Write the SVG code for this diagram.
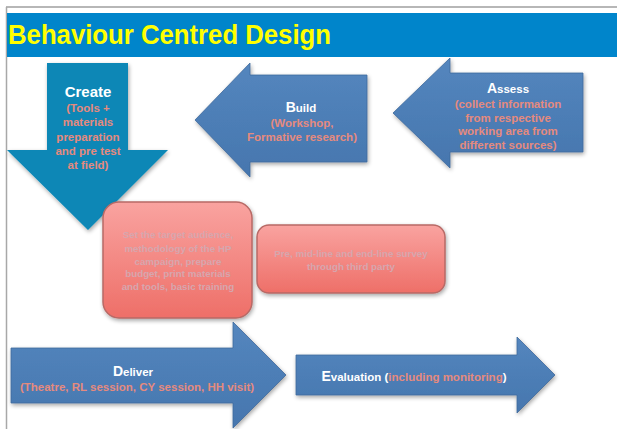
<svg xmlns="http://www.w3.org/2000/svg" width="617" height="429" viewBox="0 0 617 429">
<defs>
<linearGradient id="gBlue" x1="0" y1="0" x2="0" y2="1">
<stop offset="0" stop-color="#5486BE"/>
<stop offset="1" stop-color="#4676AE"/>
</linearGradient>
<linearGradient id="gPink" x1="0" y1="0" x2="0" y2="1">
<stop offset="0" stop-color="#F9A3A0"/>
<stop offset="1" stop-color="#EE6F68"/>
</linearGradient>
<filter id="sh" x="-10%" y="-10%" width="125%" height="130%">
<feGaussianBlur in="SourceAlpha" stdDeviation="2"/>
<feOffset dx="1" dy="2" result="b"/>
<feComponentTransfer><feFuncA type="linear" slope="0.35"/></feComponentTransfer>
<feMerge><feMergeNode/><feMergeNode in="SourceGraphic"/></feMerge>
</filter>
</defs>
<style>
.arrow{fill:url(#gBlue);stroke:#3F6A9C;stroke-width:0.8;filter:url(#sh)}
.pink{fill:url(#gPink);stroke:#B86A66;stroke-width:1.5;filter:url(#sh)}
.t{font-family:"Liberation Sans",Arial,sans-serif;font-weight:bold;text-anchor:middle}
.w{fill:#FFFFFF}
.s{fill:#E58A7E;font-size:11.5px}
.p{fill:#D6A6AE;font-size:9.8px}
.big{font-size:14px}
.sm{font-size:11.5px}
</style>
<rect x="0" y="0" width="617" height="429" fill="#FFFFFF"/>
<line x1="6" y1="7" x2="617" y2="7" stroke="#707070" stroke-width="1.2"/>
<line x1="6.5" y1="7" x2="6.5" y2="429" stroke="#A8A8A8" stroke-width="1.5"/>
<g id="header">
<rect x="7" y="13" width="610" height="44" fill="#0085CB"/>
<text x="8" y="44" font-family="Liberation Sans,Arial,sans-serif" font-weight="bold" font-size="28" fill="#FFFF00" textLength="323" lengthAdjust="spacingAndGlyphs">Behaviour Centred Design</text>
</g>
<g id="create">
<polygon points="47,63 128,63 128,150 168,150 88,230 7,150 47,150" fill="#0A87B6" filter="url(#sh)"/>
<text class="t w" x="88" y="97" font-size="15">Create</text>
<text class="t s" x="88" y="112">(Tools +</text>
<text class="t s" x="88" y="126">materials</text>
<text class="t s" x="88" y="141">preparation</text>
<text class="t s" x="88" y="155">and pre test</text>
<text class="t s" x="88" y="169">at field)</text>
</g>
<g id="build">
<polygon class="arrow" points="367,75 250,75 250,63 195,120 250,177 250,162 367,162"/>
<text class="t w" x="301" y="112"><tspan class="big">B</tspan><tspan class="sm">uild</tspan></text>
<text class="t s" x="302" y="127">(Workshop,</text>
<text class="t s" x="302" y="141">Formative research)</text>
</g>
<g id="assess">
<polygon class="arrow" points="583,73 450,73 450,58 393,113 450,168 450,152 583,152"/>
<text class="t w" x="508" y="93"><tspan class="big">A</tspan><tspan class="sm">ssess</tspan></text>
<text class="t s" x="508" y="108">(collect information</text>
<text class="t s" x="508" y="122">from respective</text>
<text class="t s" x="508" y="135">working area from</text>
<text class="t s" x="508" y="149">different sources)</text>
</g>
<g id="plan">
<rect class="pink" x="103" y="202" width="149" height="116" rx="16"/>
<text class="t p" x="178" y="238">Set the target audience,</text>
<text class="t p" x="178" y="252">methodology of the HP</text>
<text class="t p" x="178" y="265">campaign, prepare</text>
<text class="t p" x="178" y="277">budget, print materials</text>
<text class="t p" x="178" y="290">and tools, basic training</text>
</g>
<g id="survey">
<rect class="pink" x="257" y="225" width="188" height="68" rx="12"/>
<text class="t p" x="351" y="257">Pre, mid-line and end-line survey</text>
<text class="t p" x="351" y="270">through third party</text>
</g>
<g id="deliver">
<polygon class="arrow" points="11,348 233,348 233,322 286,375 233,428 233,403 11,403"/>
<text class="t w" x="133" y="376"><tspan class="big">D</tspan><tspan class="sm">eliver</tspan></text>
<text class="t s" x="137" y="391">(Theatre, RL session, CY session, HH visit)</text>
</g>
<g id="evaluation">
<polygon class="arrow" points="296,355 517,355 517,337 555,375 517,413 517,395 296,395"/>
<text class="t w" x="414" y="381"><tspan class="big">E</tspan><tspan class="sm">valuation (</tspan><tspan class="s">including monitoring</tspan><tspan class="sm">)</tspan></text>
</g>
<g id="connectors"></g>
</svg>
